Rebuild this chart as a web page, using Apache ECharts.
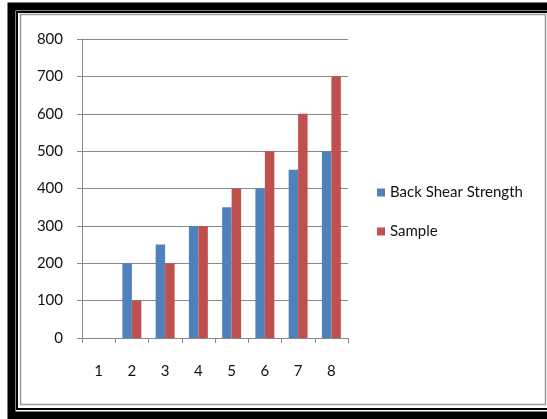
<!DOCTYPE html>
<html>
<head>
<meta charset="utf-8">
<script src="https://cdn.jsdelivr.net/npm/echarts@6/dist/echarts.min.js"></script>
<style>
  html, body { margin: 0; padding: 0; background: #fff; }
  #chart { width: 547px; height: 419px; }
</style>
</head>
<body>
<div id="chart"></div>
<script>
// Category labels along the x axis
var categories = ['1', '2', '3', '4', '5', '6', '7', '8'];
// Series values
var backShearStrength = [0, 200, 250, 300, 350, 400, 450, 500];
var sample = [0, 100, 200, 300, 400, 500, 600, 700];
// Value axis range
var yMin = 0, yMax = 800, yStep = 100;

var FONT = 'Lato';
var chart = echarts.init(document.getElementById('chart'), null, { renderer: 'canvas' });

chart.setOption({
  animation: false,
  backgroundColor: '#fff',
  textStyle: { fontFamily: FONT },
  grid: { left: 82, right: 199, top: 39, bottom: 81, containLabel: false },
  legend: {
    orient: 'vertical',
    left: 372,
    top: 180,
    icon: 'rect',
    itemWidth: 8,
    itemHeight: 8,
    itemGap: 24,
    textStyle: { fontFamily: FONT, fontSize: 15, color: '#111', padding: [0, 0, 0, 0] },
    data: ['Back Shear Strength', 'Sample']
  },
  xAxis: {
    type: 'category',
    data: categories,
    axisLine: { show: true, lineStyle: { color: '#888', width: 1 } },
    axisTick: { show: true, length: 5, alignWithLabel: false, lineStyle: { color: '#888' } },
    axisLabel: { margin: 26, fontFamily: FONT, fontSize: 15, color: '#111' },
    splitLine: { show: false }
  },
  yAxis: {
    type: 'value',
    min: yMin,
    max: yMax,
    interval: yStep,
    axisLine: { show: true, lineStyle: { color: '#888', width: 1 } },
    axisTick: { show: true, length: 5, lineStyle: { color: '#888' } },
    axisLabel: { margin: 19, fontFamily: FONT, fontSize: 15, color: '#111' },
    splitLine: { show: true, lineStyle: { color: '#888', width: 1 } }
  },
  series: [
    {
      name: 'Back Shear Strength',
      type: 'bar',
      data: backShearStrength,
      barGap: '0%',
      barCategoryGap: '43%',
      itemStyle: { color: '#4F81BD' }
    },
    {
      name: 'Sample',
      type: 'bar',
      data: sample,
      barGap: '0%',
      barCategoryGap: '43%',
      itemStyle: { color: '#C0504D' }
    }
  ],
  graphic: [
    // heavy outer frame (open on the right side, runs off the page)
    { type: 'rect', silent: true, shape: { x: 11.5, y: 6.5, width: 560, height: 409 },
      style: { fill: 'none', stroke: '#000', lineWidth: 8 } },
    // thin black inner frame
    { type: 'rect', silent: true, shape: { x: 17, y: 12, width: 560, height: 397 },
      style: { fill: 'none', stroke: '#000', lineWidth: 2 } },
    // grey chart-area border
    { type: 'rect', silent: true, shape: { x: 20.5, y: 14.5, width: 525, height: 390 },
      style: { fill: 'none', stroke: '#9a9a9a', lineWidth: 1.5 } }
  ]
});
</script>
</body>
</html>
